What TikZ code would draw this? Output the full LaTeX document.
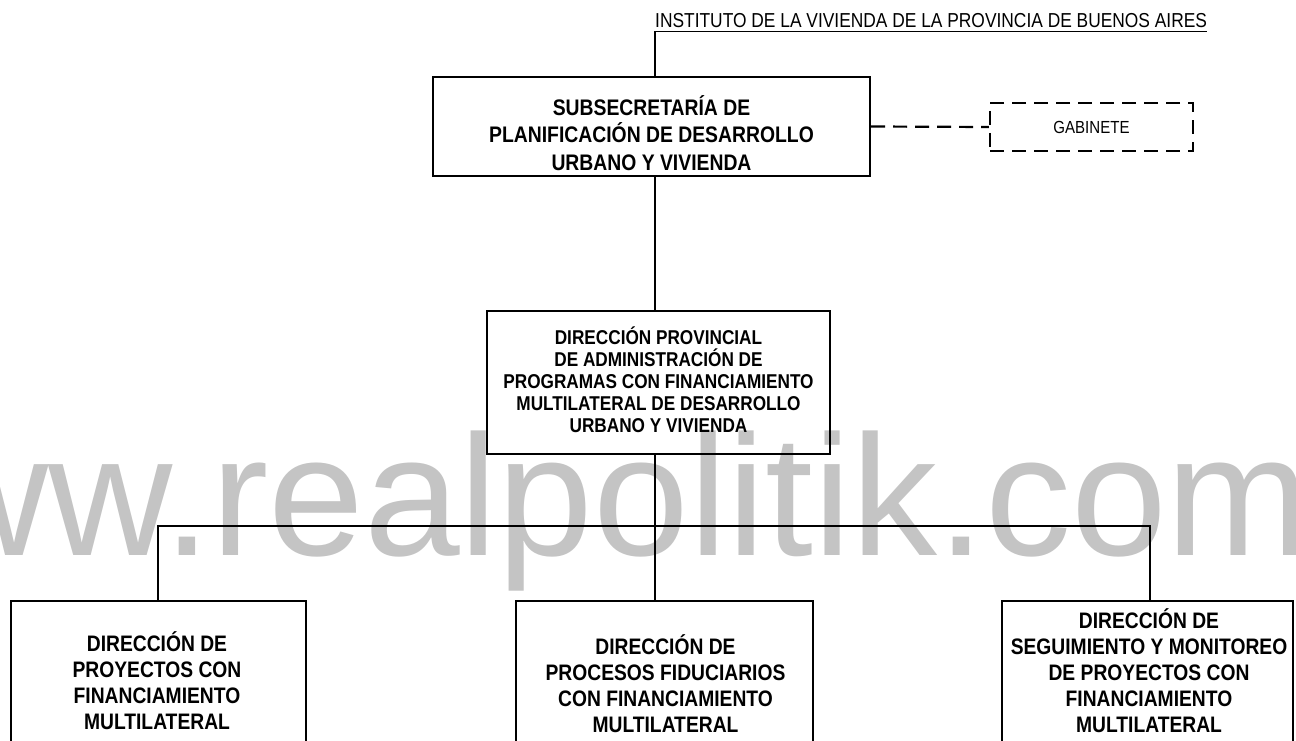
\documentclass[tikz,border=0pt]{standalone}
\usepackage{fontspec}
\setmainfont{Liberation Sans}
\newfontfamily\narrowfont[FakeStretch=0.86]{Liberation Sans}
\begin{document}
\begin{tikzpicture}[x=1pt,y=-1pt,
  box/.style={draw, line width=2.3pt, inner sep=0pt},
  conn/.style={line width=1.1pt},
  dashline/.style={line width=2.2pt, dash pattern=on 14pt off 8pt},
  lbl/.style={align=center, inner sep=0pt},
  bigtxt/.style={font=\narrowfont\bfseries\fontsize{22.5}{27.5}\selectfont},
  midtxt/.style={font=\narrowfont\bfseries\fontsize{20}{22}\selectfont},
  bottxt/.style={font=\narrowfont\bfseries\fontsize{22.4}{26}\selectfont},
]
\useasboundingbox (0,0) rectangle (1296,741);
\begin{scope}
\clip (0,0) rectangle (1296,741);
% watermark
\node[anchor=base west, inner sep=0pt, text=black!23,
      font=\fontsize{172}{172}\selectfont] (wm) at (-200,555) {www.realpolitik.com};

% title
\node[anchor=base west, inner sep=0pt, font=\narrowfont\fontsize{20.2}{24}\selectfont]
  (inst) at (655,28) {INSTITUTO DE LA VIVIENDA DE LA PROVINCIA DE BUENOS AIRES};
\coordinate (ul) at ([yshift=-3.5pt]inst.base west);
\coordinate (ur) at ([yshift=-3.5pt]inst.base east);

% boxes
\node[box, minimum width=437pt, minimum height=99pt] (sub) at (651.5,126.5) {};
\node[lbl, bigtxt] (subt) at (651.5,133) {SUBSECRETARÍA DE\\PLANIFICACIÓN DE DESARROLLO\\URBANO Y VIVIENDA};

\node[draw, dashline, inner sep=0pt, minimum width=203pt, minimum height=48pt,
      font=\narrowfont\fontsize{17.5}{20}\selectfont] (gab) at (1091.5,127) {GABINETE};

\node[box, minimum width=343pt, minimum height=143pt] (dp) at (658.5,382.5) {};
\node[lbl, midtxt] (dpt) at (658.5,380) {DIRECCIÓN PROVINCIAL\\DE ADMINISTRACIÓN DE\\PROGRAMAS CON FINANCIAMIENTO\\MULTILATERAL DE DESARROLLO\\URBANO Y VIVIENDA};

\node[box, minimum width=295pt, minimum height=179pt] (d1) at (158.5,690.5) {};
\node[lbl, bottxt] (d1t) at (157,681) {DIRECCIÓN DE\\PROYECTOS CON\\FINANCIAMIENTO\\MULTILATERAL};

\node[box, minimum width=297pt, minimum height=179pt] (d2) at (664.5,690.5) {};
\node[lbl, bottxt] (d2t) at (665.5,684) {DIRECCIÓN DE\\PROCESOS FIDUCIARIOS\\CON FINANCIAMIENTO\\MULTILATERAL};

\node[box, minimum width=291pt, minimum height=179pt] (d3) at (1147.5,690.5) {};
\node[lbl, bottxt] (d3t) at (1149,671) {DIRECCIÓN DE\\SEGUIMIENTO Y MONITOREO\\DE PROYECTOS CON\\FINANCIAMIENTO\\MULTILATERAL};

% connectors
\draw[conn] (ul) -- (ur);
\draw[conn] (ul) -- (ul |- sub.north);
\draw[conn] (ul |- sub.south) -- (ul |- dp.north);
\draw[conn] (ul |- dp.south) -- (ul |- d2.north);
\coordinate (bus) at (0,526);
\coordinate (c1) at (158,0);
\coordinate (c3) at (1150,0);
\draw[conn] (c1 |- d1.north) -- (c1 |- bus) -- (c3 |- bus) -- (c3 |- d3.north);
\draw[dashline] (sub.east) -- (gab.west);
\end{scope}
\end{tikzpicture}
\end{document}
